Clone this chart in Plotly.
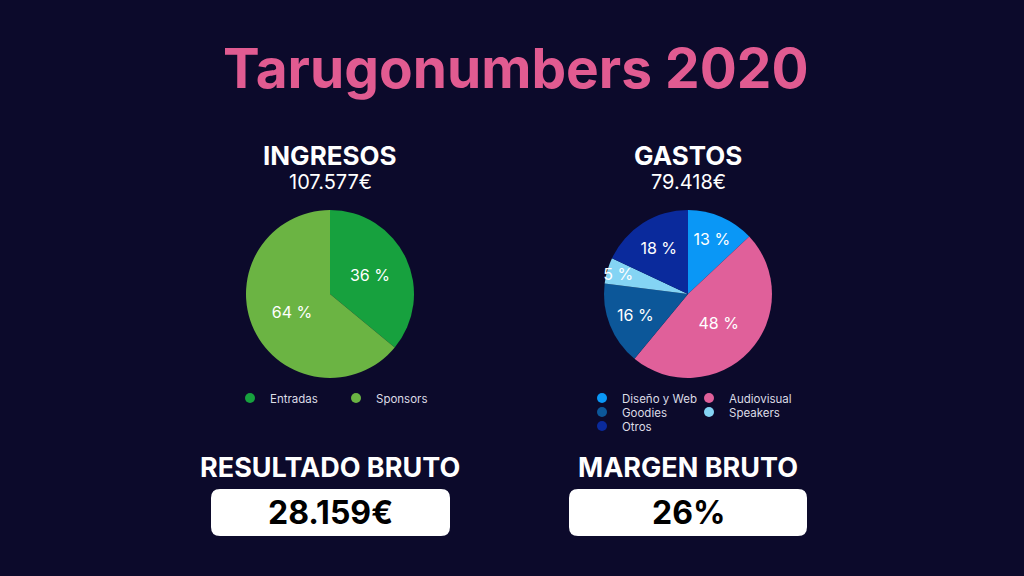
import plotly.graph_objects as go

W, H = 1024, 576

title_text = "Tarugonumbers 2020"

ingresos_title = "INGRESOS"
ingresos_total = "107.577€"
ingresos_labels = ["Entradas", "Sponsors"]
ingresos_pct = [36, 64]
ingresos_colors = ["#17a13e", "#6bb443"]

gastos_title = "GASTOS"
gastos_total = "79.418€"
gastos_labels = ["Diseño y Web", "Audiovisual", "Goodies", "Speakers", "Otros"]
gastos_pct = [13, 48, 16, 5, 18]
gastos_colors = ["#0a97f6", "#e0609a", "#0c5799", "#84d4f4", "#0a2a9c"]

resultado_title = "RESULTADO BRUTO"
resultado_value = "28.159€"
margen_title = "MARGEN BRUTO"
margen_value = "26%"

BG = "#0c0a2b"
PINK = "#e15b91"
FONT = "Inter"


def px(x):
    return x / W


def py(y):
    return 1 - y / H


fig = go.Figure()


def add_pie(labels, vals, colors, cx, cy, r):
    fig.add_trace(go.Pie(
        labels=labels, values=vals, sort=False, direction="clockwise", rotation=0,
        marker=dict(colors=colors, line=dict(width=0)),
        texttemplate="%{value} %", textposition="inside",
        insidetextorientation="horizontal",
        textfont=dict(family=FONT, size=16, color="white"),
        hoverinfo="label+percent", showlegend=False,
        domain=dict(x=[px(cx - r), px(cx + r)], y=[py(cy + r), py(cy - r)]),
    ))


add_pie(ingresos_labels, ingresos_pct, ingresos_colors, 330, 294, 84)
add_pie(gastos_labels, gastos_pct, gastos_colors, 688, 294, 84)

# Legend entries (one legend per entry for exact placement)
legend_pos = {
    "Entradas": (252, 398), "Sponsors": (358, 398),
    "Diseño y Web": (604, 398), "Audiovisual": (711, 398),
    "Goodies": (604, 412), "Speakers": (711, 412),
    "Otros": (604, 426),
}
all_labels = ingresos_labels + gastos_labels
all_colors = ingresos_colors + gastos_colors
legend_layouts = {}
for i, (lab, col) in enumerate(zip(all_labels, all_colors)):
    lname = "legend" if i == 0 else f"legend{i + 1}"
    fig.add_trace(go.Scatter(
        x=[None], y=[None], mode="markers", name=lab,
        marker=dict(color=col, size=10, symbol="circle"),
        legend=lname, showlegend=True,
    ))
    lx, ly = legend_pos[lab]
    legend_layouts[lname] = dict(
        x=px(lx - 22), y=py(ly), xanchor="left", yanchor="middle",
        bgcolor="rgba(0,0,0,0)", borderwidth=0,
        font=dict(family=FONT, size=11.5, color="#dcdce6"),
        itemwidth=30, tracegroupgap=0,
    )

annotations = [
    dict(text=title_text, x=px(516), y=py(68), font=dict(family=FONT, size=55, color=PINK, weight=700)),
    dict(text=ingresos_title, x=px(330), y=py(155), font=dict(family=FONT, size=26, color="white", weight=700)),
    dict(text=ingresos_total, x=px(330), y=py(182), font=dict(family=FONT, size=20, color="white")),
    dict(text=gastos_title, x=px(688), y=py(155), font=dict(family=FONT, size=26, color="white", weight=700)),
    dict(text=gastos_total, x=px(688), y=py(182), font=dict(family=FONT, size=20, color="white")),
    dict(text=resultado_title, x=px(330), y=py(467), font=dict(family=FONT, size=27, color="white", weight=700)),
    dict(text=resultado_value, x=px(330), y=py(512), font=dict(family=FONT, size=32, color="black", weight=700)),
    dict(text=margen_title, x=px(688), y=py(467), font=dict(family=FONT, size=27, color="white", weight=700)),
    dict(text=margen_value, x=px(688), y=py(512), font=dict(family=FONT, size=32, color="black", weight=700)),
]
for a in annotations:
    a.update(xref="paper", yref="paper", showarrow=False, xanchor="center", yanchor="middle")


def rounded_rect(x0, y0, x1, y1, r):
    X0, X1 = px(x0), px(x1)
    Y0, Y1 = py(y1), py(y0)
    rx, ry = r / W, r / H
    return (f"M {X0 + rx},{Y0} L {X1 - rx},{Y0} Q {X1},{Y0} {X1},{Y0 + ry} "
            f"L {X1},{Y1 - ry} Q {X1},{Y1} {X1 - rx},{Y1} "
            f"L {X0 + rx},{Y1} Q {X0},{Y1} {X0},{Y1 - ry} "
            f"L {X0},{Y0 + ry} Q {X0},{Y0} {X0 + rx},{Y0} Z")


shapes = [
    dict(type="path", xref="paper", yref="paper", path=rounded_rect(211, 489, 450, 536, 9),
         fillcolor="white", line=dict(width=0), layer="below"),
    dict(type="path", xref="paper", yref="paper", path=rounded_rect(569, 489, 807, 536, 9),
         fillcolor="white", line=dict(width=0), layer="below"),
]

fig.update_layout(
    width=W, height=H,
    margin=dict(l=0, r=0, t=0, b=0),
    paper_bgcolor=BG, plot_bgcolor=BG,
    xaxis=dict(visible=False), yaxis=dict(visible=False),
    annotations=annotations, shapes=shapes,
    uniformtext=dict(minsize=16, mode="show"),
    **legend_layouts,
)

fig.write_html(
    "out.html",
    config={"displayModeBar": False},
    post_script="document.body.style.margin='0';document.body.style.background='%s';" % BG,
)
